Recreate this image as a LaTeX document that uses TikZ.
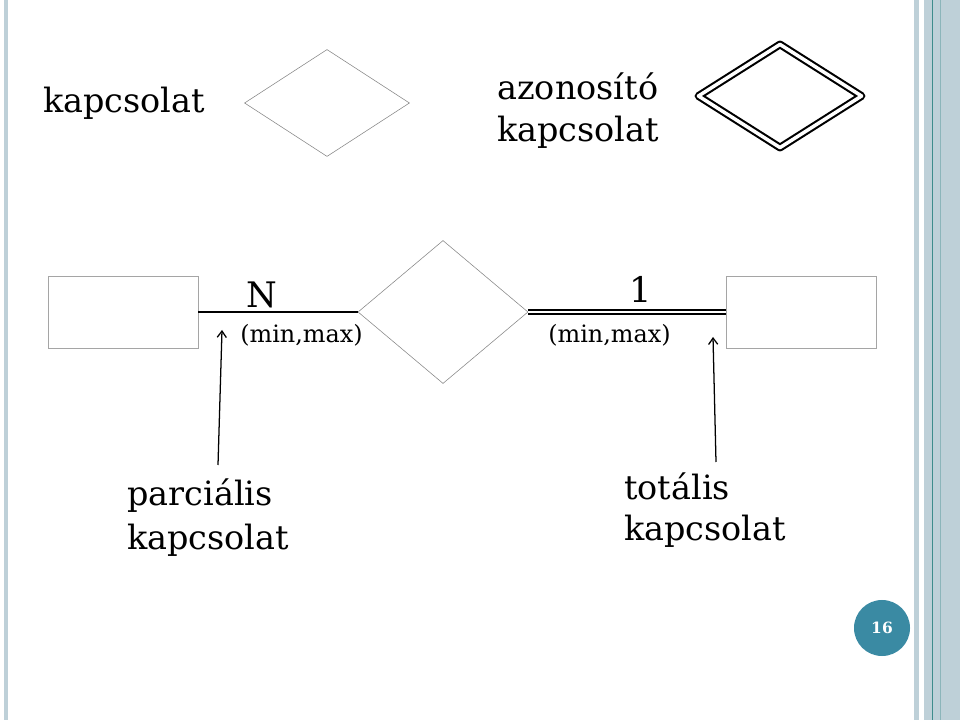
\documentclass[tikz,border=0pt]{standalone}
\usepackage{fontspec}
\setmainfont{DejaVu Serif}
\usetikzlibrary{arrows.meta,shapes,positioning}
\definecolor{frame}{RGB}{190,208,216}
\definecolor{frameline}{RGB}{62,140,140}
\definecolor{pagenum}{RGB}{58,138,163}
\definecolor{outline}{RGB}{135,135,135}

\begin{document}
\begin{tikzpicture}[x=0.025cm, y=-0.025cm,
    entity/.style={rectangle, draw=outline!75, minimum width=3.75cm, minimum height=1.8cm},
    rel/.style={diamond, draw=outline, inner sep=0pt},
    idrel/.style={diamond, draw=black, inner sep=0pt, line width=1.5pt, double=white,
                  double distance=2.5pt, line join=round},
    big/.style={font=\fontsize{23.8}{32}\selectfont, inner sep=0pt, anchor=base west},
    small/.style={font=\fontsize{17}{20}\selectfont, inner sep=0pt, anchor=base west},
    card/.style={font=\fontsize{25}{30}\selectfont, inner sep=0pt, anchor=base},
    pointer/.style={-{Straight Barb[length=4.5pt,width=6.5pt]}, line width=0.9pt}
]
    \useasboundingbox (0,0) rectangle (960,720);

    % Frame stripes
    \fill[frame] (4,0) rectangle (8,720);
    \fill[frame] (914,0) rectangle (919,720);
    \fill[frame] (924,0) rectangle (960,720);
    \fill[frameline] (931.5,0) rectangle (933,720);
    \fill[frame!60!frameline] (939.5,0) rectangle (940.5,720);

    % Legend row
    \node[big] (rellbl) at (43,113) {kapcsolat};
    \node[rel, minimum width=4.125cm, minimum height=2.675cm] (relsym) at (327,103) {};
    \node[big] (idlbl1) at (497,100) {azonosító};
    \node[big] (idlbl2) at (497,142) {kapcsolat};
    \node[idrel, minimum width=4.1cm, minimum height=2.6cm] (idsym) at (780,96) {};

    % Entities and relationship
    \node[entity] (ent1) at (123,312) {};
    \node[rel, minimum width=4.25cm, minimum height=3.575cm] (relmid) at (443,312) {};
    \node[entity] (ent2) at (801,312) {};

    \draw[line width=1.1pt] (ent1.east) -- (relmid.west);
    \draw[line width=1.3pt, double=white, double distance=1.6pt] (relmid.east) -- (ent2.west);

    % Cardinalities
    \node[card] (cardN) at (262,308) {N};
    \node[small] (mm1) at (240,343) {(min,max)};
    \node[card] (card1) at (641,303) {1};
    \node[small] (mm2) at (548,343) {(min,max)};

    % Participation
    \node[big] (partlbl1) at (127,505) {parciális};
    \node[big] (partlbl2) at (127,550) {kapcsolat};
    \node[big] (totlbl1) at (624,500) {totális};
    \node[big] (totlbl2) at (624,541) {kapcsolat};

    \coordinate (ptail) at (218,465);
    \coordinate (phead) at (222,330);
    \coordinate (ttail) at (716,462);
    \coordinate (thead) at (713,337);
    \draw[pointer] (ptail) -- (phead);
    \draw[pointer] (ttail) -- (thead);

    % Page number
    \node[circle, fill=pagenum, minimum size=1.4cm, inner sep=0pt, text=white,
          font=\bfseries\fontsize{11}{13}\selectfont] (pageno) at (882,628) {16};
\end{tikzpicture}
\end{document}
